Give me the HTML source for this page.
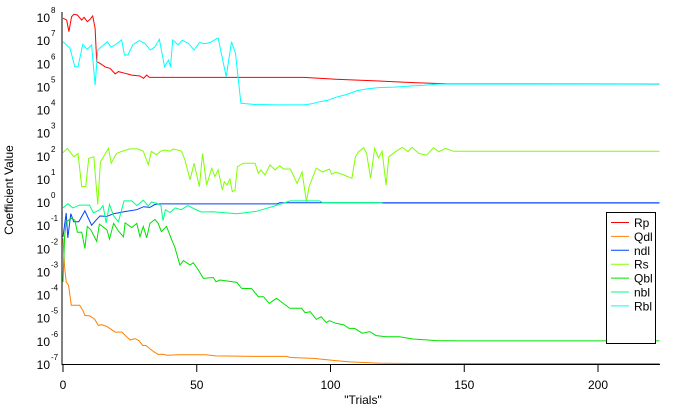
<!DOCTYPE html>
<html><head><meta charset="utf-8"><style>
body{margin:0;background:#fff;}
svg{display:block;font-family:"Liberation Sans",Arial,sans-serif;}
</style></head><body>
<svg id="chart" width="684" height="409" viewBox="0 0 684 409" xmlns="http://www.w3.org/2000/svg">
<g id="plot"></g>
<g id="axes"></g>
<text x="363" y="404" font-size="12" text-anchor="middle">"Trials"</text>
<text transform="translate(13,190) rotate(-90)" font-size="12" text-anchor="middle">Coefficient Value</text>
<g id="legend"></g>
</svg>
<script>
const xTicks=[0,50,100,150,200];
const yTickExps=[8,7,6,5,4,3,2,1,0,-1,-2,-3,-4,-5,-6,-7];
const seriesNames=["Rp","Qdl","ndl","Rs","Qbl","nbl","Rbl"];
const seriesColors=["#ff0000","#ff8000","#0040ff","#80ff00","#00e000","#00ff80","#00ffff"];
// trials and log10 values per series
const rpT=[0,1.4,2.2,3.2,4.1,5.4,7,7.9,9.1,10.1,11.1,12,12.6,13.8,15.7,17.6,19.5,20.7,23.2,25.7,28.8,30.1,31.3,32.3,90,102,117,132,143,223];
const rpLog=[7.95,7.87,7.37,8.02,8.12,8.09,7.87,7.99,7.8,7.9,8.05,7.52,6.07,6.0,5.85,5.78,5.54,5.64,5.57,5.49,5.45,5.35,5.49,5.39,5.39,5.31,5.24,5.16,5.12,5.1];
const qdlT=[0,0.6,1.2,2.1,3.1,6.2,7.5,8.2,10,11.9,13.2,14.4,16.4,19.5,22,23.5,25.1,27,28.5,29.8,31,32.6,34.3,35.8,37,38.9,43.3,53.3,57,73.6,83.5,85,93.6,102.4,107.4,118.6,131,223];
const qdlLog=[-1.57,-2.8,-3.45,-3.6,-4.46,-4.46,-4.7,-4.9,-4.92,-5.07,-5.33,-5.3,-5.38,-5.62,-5.62,-5.79,-5.96,-5.9,-6.0,-6.2,-6.2,-6.35,-6.5,-6.6,-6.57,-6.62,-6.6,-6.6,-6.65,-6.67,-6.67,-6.72,-6.76,-6.86,-6.91,-6.97,-6.98,-6.98];
const ndlT=[0,1.2,1.8,2.9,4,5.9,8.2,10.7,12.6,13.8,16.4,18.9,23.8,27.6,30.1,32.5,34.4,36.3,80,81,223];
const ndlLog=[-1.5,-0.47,-1.55,-0.5,-0.85,-0.85,-0.38,-1.0,-0.75,-0.6,-0.62,-0.5,-0.4,-0.33,-0.2,-0.23,-0.1,-0.08,-0.08,-0.03,-0.03];
const rsT=[0,1.7,4,5.6,7,8.5,9.6,11.5,13,14,17,18,20,22,25,28,30,31.9,33,35,36.5,38,40,41.3,44.3,45.6,47.5,49,51,52.2,53.7,55.6,56.8,58,59.6,60.3,61.3,62.4,63.3,64.3,65.2,67.4,71.8,73,74,75.5,77.4,79.2,81,82.5,85,87.5,89.4,91,92,94.7,97,99.6,100.5,102,105,108,109.3,110.5,112.4,113.5,115,116.5,118,119.3,120.8,121.8,124.3,126.8,129,130.5,133,136,138.5,140.5,143,146,223];
const rsLog=[2.14,2.32,1.96,2.1,0.67,0.67,1.89,1.96,-0.1,1.74,2.32,1.68,2.1,2.19,2.3,2.3,2.2,1.61,2.19,2.05,2.2,2.25,2.2,2.3,2.2,1.82,0.96,1.68,0.67,2.1,0.74,1.46,1.1,1.39,0.52,0.88,0.74,1.0,0.45,0.52,1.53,1.68,1.68,1.24,1.39,1.17,1.61,1.39,1.57,1.43,1.43,0.81,1.3,0.02,0.67,1.47,1.3,1.43,1.2,1.3,1.17,1.03,1.96,2.18,2.35,2.1,1.03,2.32,1.9,2.2,0.73,1.96,2.18,2.37,2.18,2.37,2.1,2.03,2.35,2.18,2.32,2.2,2.2];
const qblT=[0,0.6,1.2,3.1,4.4,5.4,7,8.2,9.1,10.4,12.6,13.6,16.4,17.4,18.9,20.7,22.6,23.2,25.7,27.6,28.8,30,31.3,32.5,34.4,35.6,36.8,38.7,40.6,41.8,43.7,45,47.5,48.7,50.6,52.5,56.2,57.2,58.7,65,66.8,70.5,73,75,76,77.1,79.8,82.3,84.8,89.2,90.5,92.4,94.7,96.5,98.4,99.6,102,105,106.9,109,111.9,114.6,117.1,120.8,125.8,130.8,135.8,139.5,148.2,223];
const qblLog=[-3.45,-1.5,-0.85,-0.7,-0.78,-1.3,-1.3,-2.0,-1.05,-1.2,-1.7,-0.95,-1.2,-1.6,-0.92,-1.25,-1.5,-0.9,-1.1,-0.92,-1.5,-1.05,-1.55,-0.92,-0.75,-0.92,-1.28,-1.05,-1.62,-1.95,-2.72,-2.53,-2.72,-2.62,-2.94,-3.3,-3.26,-3.44,-3.37,-3.47,-3.73,-3.74,-4.09,-4.09,-4.23,-4.38,-4.16,-4.38,-4.59,-4.59,-4.78,-4.74,-5.07,-4.96,-5.21,-5.13,-5.24,-5.31,-5.46,-5.46,-5.67,-5.6,-5.77,-5.82,-5.82,-5.92,-5.96,-5.99,-6.0,-6.0];
const nblT=[0,1.8,3.7,6.2,9.9,11.4,13.8,15,16.1,17.4,18.9,20.7,22.8,25.7,27.6,30,31.9,33.1,35,36.6,37.4,38.3,40,42,44.2,46.7,49.2,51.7,56,65,72.4,81,85,96,97,118,120,223];
const nblLog=[-0.25,-0.07,-0.25,-0.13,-0.13,-0.47,-0.33,-0.15,-0.9,-0.1,-0.6,-0.85,0.05,0.05,-0.15,0.08,-0.17,0.0,-0.05,-0.15,-0.8,-0.33,-0.45,-0.25,-0.33,-0.15,-0.3,-0.43,-0.42,-0.5,-0.4,-0.1,0.05,0.05,-0.02,-0.02,-0.06,-0.06];
const rblT=[0,2.6,4.4,5.6,7.4,9,10.7,12,13,16.6,17.9,19.5,21.9,23,24.3,26,28.5,30.6,32.6,34.3,36,38,39.4,40.2,41,43,44.6,47,49,51,53,55,58,61,63,64.5,66.5,72,80,90,93,96,99,102,106,110,114,118,124,130,135,140,223];
const rblLog=[6.93,6.65,5.85,5.85,6.82,6.6,6.79,5.06,6.58,6.93,6.7,6.79,7.01,6.36,6.36,6.79,6.98,6.86,6.58,6.7,7.04,5.85,6.14,5.85,7.01,6.8,7.0,6.85,6.57,6.9,6.85,6.9,7.1,5.42,6.93,6.43,4.27,4.22,4.2,4.2,4.25,4.34,4.4,4.53,4.65,4.82,4.9,4.95,4.97,5.02,5.05,5.1,5.1];
const allT=[rpT,qdlT,ndlT,rsT,qblT,nblT,rblT];
const allV=[rpLog,qdlLog,ndlLog,rsLog,qblLog,nblLog,rblLog];

const X0=63,XS=2.675,Y0=364,YS=23.13;
function xS(t){return X0+t*XS;}
function yS(e){return Y0-(e+7)*YS;}
const NS="http://www.w3.org/2000/svg";
function mk(tag,attrs,parent){const el=document.createElementNS(NS,tag);for(const k in attrs)el.setAttribute(k,attrs[k]);parent.appendChild(el);return el;}

const plot=document.getElementById('plot');
for(let s=0;s<seriesNames.length;s++){
  const pts=allT[s].map((t,i)=>xS(t).toFixed(1)+','+yS(allV[s][i]).toFixed(1)).join(' ');
  const pl=mk('polyline',{points:pts,fill:'none',stroke:seriesColors[s],'stroke-width':1},plot);
  
  
}
const axes=document.getElementById('axes');
const ya=mk('line',{x1:62,y1:12,x2:62,y2:365,stroke:'#000','stroke-width':1},axes);


const xa=mk('line',{x1:62,y1:364.5,x2:660,y2:364.5,stroke:'#000','stroke-width':1},axes);


xTicks.forEach(t=>{
  const tk=mk('line',{x1:xS(t),y1:365,x2:xS(t),y2:372,stroke:'#000','stroke-width':1},axes);
  
  
  const tx=mk('text',{x:xS(t),y:389,'font-size':12,'text-anchor':'middle'},axes);
  tx.textContent=String(t);
  
  
});
yTickExps.forEach(e=>{
  const tx=mk('text',{x:50,y:yS(e)+5,'font-size':12,'text-anchor':'end'},axes);
  tx.textContent='10';
  
  
  const sp=mk('text',{x:51,y:yS(e)-4,'font-size':8},axes);
  sp.textContent=String(e);
  
  
});
const lg=document.getElementById('legend');
const box=mk('rect',{x:606.5,y:212.5,width:49,height:131,fill:'#fff',stroke:'#000','stroke-width':1},lg);


seriesNames.forEach((n,i)=>{
  const y=222.5+i*13.9;
  const ln=mk('line',{x1:611,y1:y,x2:629,y2:y,stroke:seriesColors[i],'stroke-width':1},lg);
  
  
  const tx=mk('text',{x:634,y:y+4.5,'font-size':12},lg);
  tx.textContent=n;
  
  
});
</script>
</body></html>
